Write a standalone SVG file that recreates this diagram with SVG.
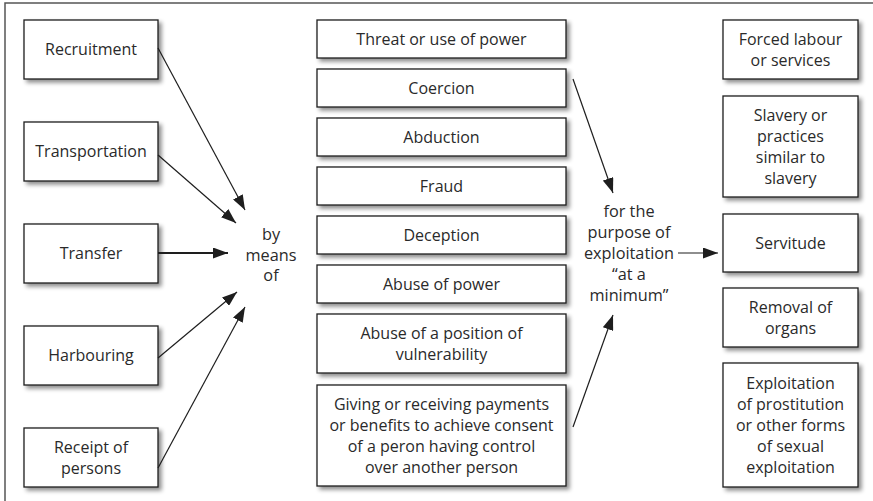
<svg xmlns="http://www.w3.org/2000/svg" width="873" height="501" viewBox="0 0 873 501">
<style>
.bg{fill:#ffffff}
.frame{stroke:#555;stroke-width:1.5;fill:none}
.box{fill:#ffffff;stroke:#1e1e1e;stroke-width:1.3;filter:url(#sh)}
text{font-family:"Open Sans","Liberation Sans",sans-serif;font-size:16px;fill:#2a2a2a;text-anchor:middle}
.lbl{font-size:16.3px}
.conn{stroke:#1e1e1e;stroke-width:1.2;fill:none;marker-end:url(#ah)}
.thick{stroke-width:2}
</style>
<defs>
<filter id="sh" x="-10%" y="-10%" width="130%" height="140%">
<feGaussianBlur in="SourceAlpha" stdDeviation="2"/>
<feOffset dx="3" dy="3" result="b"/>
<feFlood flood-color="#000" flood-opacity="0.45"/>
<feComposite in2="b" operator="in"/>
<feMerge><feMergeNode/><feMergeNode in="SourceGraphic"/></feMerge>
</filter>
<marker id="ah" viewBox="0 0 15 11" refX="15" refY="5.5" markerWidth="15" markerHeight="11" markerUnits="userSpaceOnUse" orient="auto">
<path d="M0,0 L15,5.5 L0,11 z" fill="#1e1e1e"/>
</marker>
</defs>
<rect class="bg" x="0" y="0" width="873" height="501"/>
<path class="frame" d="M5,501 L5,3 L873,3"/>

<g id="recruitment"><rect class="box" x="24" y="20" width="134" height="59"/><text x="91" y="55">Recruitment</text></g>
<g id="transportation"><rect class="box" x="24" y="122" width="134" height="59"/><text x="91" y="157">Transportation</text></g>
<g id="transfer"><rect class="box" x="24" y="224" width="134" height="59"/><text x="91" y="259">Transfer</text></g>
<g id="harbouring"><rect class="box" x="24" y="326" width="134" height="59"/><text x="91" y="361">Harbouring</text></g>
<g id="receipt"><rect class="box" x="24" y="428" width="134" height="59"/><text x="91" y="452.5">Receipt of</text><text x="91" y="473.5">persons</text></g>

<g id="threat"><rect class="box" x="317" y="20" width="249" height="38"/><text x="441.5" y="44.5">Threat or use of power</text></g>
<g id="coercion"><rect class="box" x="317" y="69" width="249" height="38"/><text x="441.5" y="93.5">Coercion</text></g>
<g id="abduction"><rect class="box" x="317" y="118" width="249" height="38"/><text x="441.5" y="142.5">Abduction</text></g>
<g id="fraud"><rect class="box" x="317" y="167" width="249" height="38"/><text x="441.5" y="191.5">Fraud</text></g>
<g id="deception"><rect class="box" x="317" y="216" width="249" height="38"/><text x="441.5" y="240.5">Deception</text></g>
<g id="abuse-power"><rect class="box" x="317" y="265" width="249" height="38"/><text x="441.5" y="289.5">Abuse of power</text></g>
<g id="abuse-position"><rect class="box" x="317" y="314" width="249" height="59"/><text x="441.5" y="338.5">Abuse of a position of</text><text x="441.5" y="359.5">vulnerability</text></g>
<g id="giving"><rect class="box" x="317" y="385" width="249" height="101"/><text x="441.5" y="409.5">Giving or receiving payments</text><text x="441.5" y="430.5">or benefits to achieve consent</text><text x="441.5" y="451.5">of a peron having control</text><text x="441.5" y="472.5">over another person</text></g>

<g id="forced"><rect class="box" x="723" y="20" width="135" height="59"/><text x="790.5" y="44.5">Forced labour</text><text x="790.5" y="65.5">or services</text></g>
<g id="slavery"><rect class="box" x="723" y="96" width="135" height="101"/><text x="790.5" y="120.5">Slavery or</text><text x="790.5" y="141.5">practices</text><text x="790.5" y="162.5">similar to</text><text x="790.5" y="183.5">slavery</text></g>
<g id="servitude"><rect class="box" x="723" y="214" width="135" height="58"/><text x="790.5" y="248.5">Servitude</text></g>
<g id="removal"><rect class="box" x="723" y="288" width="135" height="59"/><text x="790.5" y="312.5">Removal of</text><text x="790.5" y="333.5">organs</text></g>
<g id="exploitation"><rect class="box" x="723" y="363" width="135" height="124"/><text x="790.5" y="388.5">Exploitation</text><text x="790.5" y="409.5">of prostitution</text><text x="790.5" y="430.5">or other forms</text><text x="790.5" y="451.5">of sexual</text><text x="790.5" y="472.5">exploitation</text></g>

<g id="by-means-of"><text class="lbl" x="271" y="240">by</text><text class="lbl" x="271" y="261">means</text><text class="lbl" x="271" y="281">of</text></g>
<g id="purpose"><text class="lbl" x="629" y="217">for the</text><text class="lbl" x="629" y="238">purpose of</text><text class="lbl" x="629" y="259">exploitation</text><text class="lbl" x="629" y="280">“at a</text><text class="lbl" x="629" y="301">minimum”</text></g>

<g id="connectors">
<line class="conn" x1="158" y1="48" x2="245" y2="210"/>
<line class="conn" x1="158" y1="155" x2="236" y2="223"/>
<line class="conn thick" x1="158" y1="253" x2="228" y2="253"/>
<line class="conn" x1="158" y1="358" x2="237" y2="292"/>
<line class="conn" x1="158" y1="468" x2="245" y2="307"/>
<line class="conn" x1="573" y1="79" x2="613" y2="193"/>
<line class="conn" x1="573" y1="427" x2="613" y2="315"/>
<line class="conn" x1="678" y1="253" x2="718" y2="253"/>
</g>
</svg>
